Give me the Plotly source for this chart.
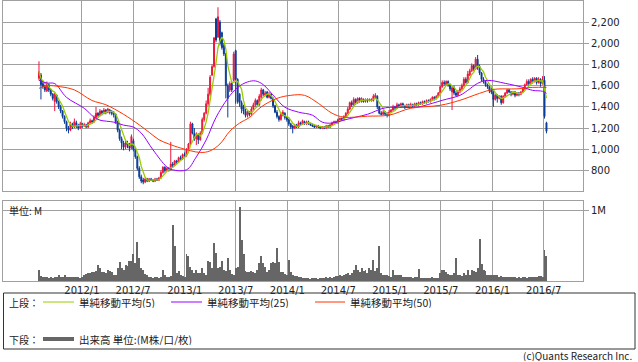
import pandas as pd
import plotly.graph_objects as go

W, H = 638, 362

# ---------------- data (weekly) ----------------
start_date = "2011-08-01"
open_ = [1670,1700,1620,1590,1550,1610,1560,1520,1450,1510,1450,1400,1360,1310,1260,1200,1180,1240,1210,1250,
         1220,1200,1240,1220,1230,1210,1250,1270,1260,1300,1340,1320,1360,1340,1370,1350,1370,1350,1340,1330,
         1260,1180,1100,1060,1020,1060,1040,1010,1080,1000,930,820,740,710,690,720,700,720,710,700,
         720,710,730,780,830,800,820,810,860,850,890,880,920,910,950,940,1000,1050,1240,1150,
         1100,1140,1090,1150,1280,1340,1430,1520,1700,1780,2230,2060,2200,2100,1980,1900,1600,1560,1620,1650,
         1930,1660,1520,1440,1400,1360,1320,1350,1330,1380,1420,1460,1420,1490,1560,1510,1540,1490,1520,1480,
         1410,1350,1310,1280,1320,1340,1300,1280,1240,1220,1200,1230,1210,1250,1240,1260,1240,1260,1240,1230,
         1220,1210,1220,1210,1200,1210,1200,1220,1210,1230,1250,1260,1250,1280,1290,1280,1310,1340,1380,1440,
         1420,1470,1440,1480,1450,1470,1450,1470,1460,1470,1460,1490,1500,1400,1340,1330,1350,1330,1320,1350,
         1370,1400,1390,1420,1400,1430,1410,1400,1420,1410,1420,1410,1430,1420,1440,1430,1450,1440,1460,1450,
         1470,1490,1480,1500,1530,1590,1630,1610,1640,1610,1540,1580,1530,1510,1540,1570,1600,1660,1630,1700,
         1740,1790,1760,1850,1780,1720,1660,1640,1610,1590,1560,1540,1470,1510,1480,1500,1440,1500,1530,1560,
         1540,1520,1540,1510,1530,1520,1540,1570,1610,1640,1620,1660,1640,1670,1630,1660,1620,1650,1250]
high = [1830,1720,1650,1610,1640,1620,1570,1530,1530,1520,1460,1420,1370,1320,1270,1220,1260,1250,1290,1270,
        1240,1260,1250,1250,1240,1260,1290,1280,1320,1400,1350,1380,1370,1390,1380,1390,1380,1370,1360,1340,
        1270,1190,1120,1080,1090,1080,1060,1140,1100,1020,940,840,760,730,730,730,730,730,720,730,
        730,740,800,840,840,830,830,1070,880,900,900,930,940,960,970,1010,1060,1260,1250,1200,
        1160,1150,1170,1300,1350,1460,1580,1700,1800,2060,2240,2340,2220,2110,2000,1910,1620,1640,1640,1920,
        1940,1670,1530,1460,1420,1380,1370,1360,1400,1440,1480,1470,1520,1580,1570,1550,1550,1540,1530,1490,
        1420,1370,1320,1350,1370,1350,1310,1290,1250,1230,1240,1240,1270,1260,1280,1270,1270,1270,1250,1240,
        1230,1230,1230,1220,1220,1220,1230,1230,1240,1260,1270,1270,1290,1300,1300,1320,1350,1400,1450,1460,
        1490,1480,1490,1490,1490,1480,1480,1480,1480,1480,1520,1530,1510,1410,1360,1370,1360,1350,1370,1380,
        1420,1410,1440,1430,1440,1440,1420,1430,1430,1440,1430,1440,1440,1450,1450,1460,1460,1470,1470,1480,
        1500,1500,1510,1540,1600,1650,1650,1650,1650,1620,1600,1600,1550,1560,1590,1620,1680,1680,1740,1760,
        1810,1800,1870,1890,1800,1730,1680,1650,1620,1600,1580,1560,1520,1520,1510,1510,1510,1540,1570,1570,
        1550,1550,1550,1540,1540,1550,1580,1620,1660,1660,1670,1680,1680,1680,1680,1670,1690,1690,1260]
low = [1650,1470,1570,1540,1540,1540,1500,1460,1360,1430,1380,1340,1290,1240,1170,1150,1170,1190,1200,1200,
       1180,1190,1200,1210,1200,1200,1240,1240,1250,1290,1300,1310,1320,1330,1330,1340,1330,1320,1300,1240,
       1160,1080,1000,990,1000,1010,980,1000,980,910,800,720,680,670,680,690,690,700,690,690,
       700,700,720,770,780,790,790,800,830,840,860,870,890,900,930,930,990,1040,1140,1080,
       1040,1050,1080,1140,1260,1330,1410,1500,1690,1770,2010,2050,1980,1940,1880,1480,1300,1540,1540,1640,
       1430,1430,1400,1340,1330,1300,1300,1310,1320,1370,1400,1400,1410,1460,1500,1500,1480,1480,1470,1390,
       1340,1290,1260,1270,1310,1280,1260,1220,1190,1150,1190,1200,1200,1230,1230,1230,1230,1230,1220,1210,
       1200,1200,1200,1190,1190,1190,1190,1200,1200,1220,1240,1240,1240,1270,1270,1270,1300,1330,1370,1400,
       1410,1420,1430,1440,1440,1440,1440,1440,1450,1450,1450,1480,1380,1330,1320,1320,1320,1300,1310,1340,
       1360,1370,1380,1390,1390,1400,1380,1390,1400,1400,1400,1400,1410,1410,1420,1420,1430,1430,1440,1440,
       1460,1460,1470,1490,1520,1580,1600,1600,1590,1550,1370,1510,1500,1500,1530,1560,1590,1620,1620,1690,
       1730,1740,1750,1750,1700,1640,1620,1590,1570,1530,1520,1400,1460,1440,1470,1420,1430,1490,1520,1530,
       1500,1510,1490,1500,1500,1510,1530,1560,1600,1600,1610,1620,1630,1610,1620,1590,1610,1290,1150]
close = [1730,1610,1590,1560,1620,1560,1520,1480,1520,1450,1400,1360,1310,1260,1200,1180,1240,1210,1260,1220,
         1200,1240,1220,1230,1210,1250,1270,1260,1300,1340,1320,1360,1340,1370,1350,1380,1350,1340,1330,1260,
         1180,1100,1060,1020,1060,1040,1010,1120,1000,930,820,740,700,690,720,700,720,710,700,720,
         710,730,780,830,800,820,810,860,850,890,880,920,910,950,940,1000,1050,1240,1150,1100,
         1140,1090,1150,1280,1340,1430,1520,1680,1780,2050,2030,2250,2000,1960,1900,1600,1480,1620,1560,1900,
         1660,1450,1440,1380,1360,1320,1350,1330,1380,1420,1460,1420,1500,1560,1520,1530,1490,1520,1480,1410,
         1350,1310,1280,1330,1350,1300,1280,1240,1210,1200,1220,1210,1250,1240,1270,1240,1260,1240,1230,1220,
         1210,1220,1210,1200,1210,1200,1220,1210,1230,1250,1260,1250,1280,1290,1280,1310,1340,1380,1440,1420,
         1470,1440,1480,1460,1480,1450,1470,1460,1470,1460,1500,1510,1400,1340,1330,1350,1330,1320,1350,1370,
         1400,1390,1420,1410,1430,1410,1400,1420,1410,1420,1410,1430,1420,1440,1430,1450,1440,1460,1450,1470,
         1490,1480,1500,1530,1590,1630,1620,1640,1610,1570,1580,1530,1510,1540,1570,1600,1660,1630,1710,1740,
         1790,1760,1850,1780,1720,1660,1640,1610,1590,1560,1540,1470,1510,1480,1500,1440,1500,1530,1560,1540,
         1520,1540,1510,1530,1520,1540,1570,1610,1640,1620,1660,1640,1670,1630,1660,1620,1650,1310,1170]
volume_k = [155,70,60,55,50,45,55,45,60,55,80,60,50,90,60,50,50,55,60,50,
            55,45,60,90,100,110,120,130,125,135,220,180,130,130,120,150,140,130,90,80,
            180,270,180,150,220,210,280,280,380,250,550,320,180,150,100,80,55,50,45,55,
            50,45,60,150,80,50,55,70,790,490,120,140,80,70,60,380,350,200,150,120,
            150,120,110,180,120,90,280,270,180,540,400,180,200,290,160,140,330,160,100,80,
            180,200,1050,580,390,140,130,130,140,130,120,160,260,350,260,200,130,150,260,270,
            250,470,270,130,130,100,90,300,130,80,70,70,60,50,45,40,45,40,35,40,
            45,40,35,40,45,40,50,45,50,45,60,70,65,80,75,90,100,110,90,120,
            150,220,150,130,180,140,160,120,180,160,300,140,180,490,110,90,80,80,70,60,
            150,80,90,90,80,60,55,50,55,50,45,50,50,170,45,40,45,40,45,40,
            50,45,40,45,110,150,150,130,100,80,90,120,330,90,80,70,110,90,150,80,
            150,140,130,180,600,240,160,140,90,90,80,90,80,90,60,70,50,60,55,50,
            60,50,55,45,50,45,50,55,45,60,50,55,60,60,70,70,60,440,360]

# moving averages (week index -> value)
ma25_idx = [0,4,8,14,23,28,31,38,43,48,52,58,65,68,75,80,85,90,96,101,106,110,114,120,125,
            132,139,144,149,155,161,167,175,180,192,200,205,214,218,223,228,237,246,251,256,258]
ma25_val = [1650,1625,1620,1490,1387,1303,1275,1256,1228,1209,1153,994,834,806,806,928,1088,1300,1480,1584,
            1635,1645,1610,1490,1397,1350,1322,1256,1247,1275,1303,1330,1387,1397,1397,1434,1462,1509,1556,
            1622,1650,1622,1584,1556,1547,1528]
ma50_idx = [0,4,11,18,27,34,43,51,56,61,66,72,82,87,92,97,102,107,113,121,128,135,142,149,155,
            167,178,189,204,214,224,231,243,251,258]
ma50_val = [1575,1600,1590,1560,1460,1420,1330,1230,1160,1090,1050,1012,970,985,1050,1170,1247,1300,1400,
            1480,1509,1509,1434,1340,1303,1312,1322,1387,1415,1462,1528,1565,1570,1584,1584]

tick_dates = ["2012-01-01","2012-07-01","2013-01-01","2013-07-01","2014-01-01",
              "2014-07-01","2015-01-01","2015-07-01","2016-01-01","2016-07-01"]
tick_labels = ["2012/1","2012/7","2013/1","2013/7","2014/1",
               "2014/7","2015/1","2015/7","2016/1","2016/7"]
price_ticks = [800,1000,1200,1400,1600,1800,2000,2200]

# ---------------- figure ----------------
dates = pd.date_range(start_date, periods=len(close), freq="7D")
ma5 = pd.Series(close).rolling(5, min_periods=1).mean()

RED = "#f0143c"
BLUE = "#0a3c96"
GREEN = "#99cc00"
PURPLE = "#9900ff"
ORANGE = "#ff3300"
GRID = "#a0a0a0"
TXT = "#222222"

fig = go.Figure()
fig.add_trace(go.Candlestick(
    x=dates, open=open_, high=high, low=low, close=close,
    increasing=dict(line=dict(color=RED, width=1), fillcolor=RED),
    decreasing=dict(line=dict(color=BLUE, width=1), fillcolor=BLUE),
    whiskerwidth=0, xaxis="x", yaxis="y", showlegend=False))
fig.add_trace(go.Scatter(x=dates, y=ma5, mode="lines", line=dict(color=GREEN, width=1.3),
                         xaxis="x", yaxis="y", showlegend=False))
fig.add_trace(go.Scatter(x=dates[ma25_idx], y=ma25_val, mode="lines", line=dict(color=PURPLE, width=1, shape="spline"),
                         xaxis="x", yaxis="y", showlegend=False))
fig.add_trace(go.Scatter(x=dates[ma50_idx], y=ma50_val, mode="lines", line=dict(color=ORANGE, width=1, shape="spline"),
                         xaxis="x", yaxis="y", showlegend=False))
fig.add_trace(go.Bar(x=dates, y=volume_k, marker=dict(color="#666666", line=dict(width=0)),
                     xaxis="x2", yaxis="y2", showlegend=False))

def px(x):
    return x / W

def py(y):
    return 1 - y / H

xr = ["2011-03-26", "2016-11-18"]
common_x = dict(type="date", range=xr, domain=[px(3), px(583)], tickvals=tick_dates,
                showgrid=True, gridcolor=GRID, gridwidth=1, showline=True, linecolor=GRID,
                mirror=True, zeroline=False, ticks="", fixedrange=True)
common_y = dict(side="right", showgrid=True, gridcolor=GRID, gridwidth=1, showline=True,
                linecolor=GRID, mirror=True, zeroline=False, ticks="outside", ticklen=5,
                tickcolor=GRID, tickfont=dict(family="DejaVu Sans", size=10, color=TXT))

fig.update_layout(
    width=W, height=H, margin=dict(l=0, r=0, t=0, b=0),
    paper_bgcolor="white", plot_bgcolor="white", bargap=0,
    xaxis=dict(common_x, anchor="y", showticklabels=False, rangeslider=dict(visible=False)),
    yaxis=dict(common_y, domain=[py(190.7), py(0.7)], range=[609, 2402],
               tickvals=price_ticks, tickformat=",d"),
    xaxis2=dict(common_x, anchor="y2", ticktext=tick_labels, showticklabels=True,
                tickfont=dict(family="DejaVu Sans", size=10, color=TXT)),
    yaxis2=dict(common_y, domain=[py(281), py(201)], range=[0, 1135],
                tickvals=[1000], ticktext=["1M"]),
)

JP = "Noto Sans CJK JP"
ann = [
    dict(x=8, y=210, text="単位: M", xanchor="left", size=10),
    dict(x=8, y=302, text="上段：", xanchor="left", size=10),
    dict(x=78, y=302, text="単純移動平均(5)", xanchor="left", size=10.5),
    dict(x=206, y=302, text="単純移動平均(25)", xanchor="left", size=10.5),
    dict(x=349, y=302, text="単純移動平均(50)", xanchor="left", size=10.5),
    dict(x=8, y=339, text="下段：", xanchor="left", size=10),
    dict(x=78, y=339, text="出来高 単位:(M株/口/枚)", xanchor="left", size=10.5),
    dict(x=633, y=354.5, text="(c)Quants Research Inc.", xanchor="right", size=10),
]
for a in ann:
    fig.add_annotation(x=px(a["x"]), y=py(a["y"]), xref="paper", yref="paper", text=a["text"],
                       xanchor=a["xanchor"], yanchor="middle", showarrow=False, height=12,
                       borderpad=0, font=dict(family=JP, size=a["size"], color=TXT))

# legend box and line samples
fig.add_shape(type="rect", xref="paper", yref="paper", x0=px(3.5), x1=px(635), y0=py(349), y1=py(293),
              line=dict(color="#333333", width=1), fillcolor="rgba(0,0,0,0)")
for x0, x1, yy, col, wd in [(43, 74, 302, GREEN, 1), (171, 202, 302, PURPLE, 1),
                            (315, 345, 302, ORANGE, 1), (43, 74, 339, "#666666", 4)]:
    fig.add_shape(type="line", xref="paper", yref="paper", x0=px(x0), x1=px(x1), y0=py(yy), y1=py(yy),
                  line=dict(color=col, width=wd))

fig.write_html("out.html", config={"displayModeBar": False, "staticPlot": True},
               post_script="document.body.style.margin='0px';")
